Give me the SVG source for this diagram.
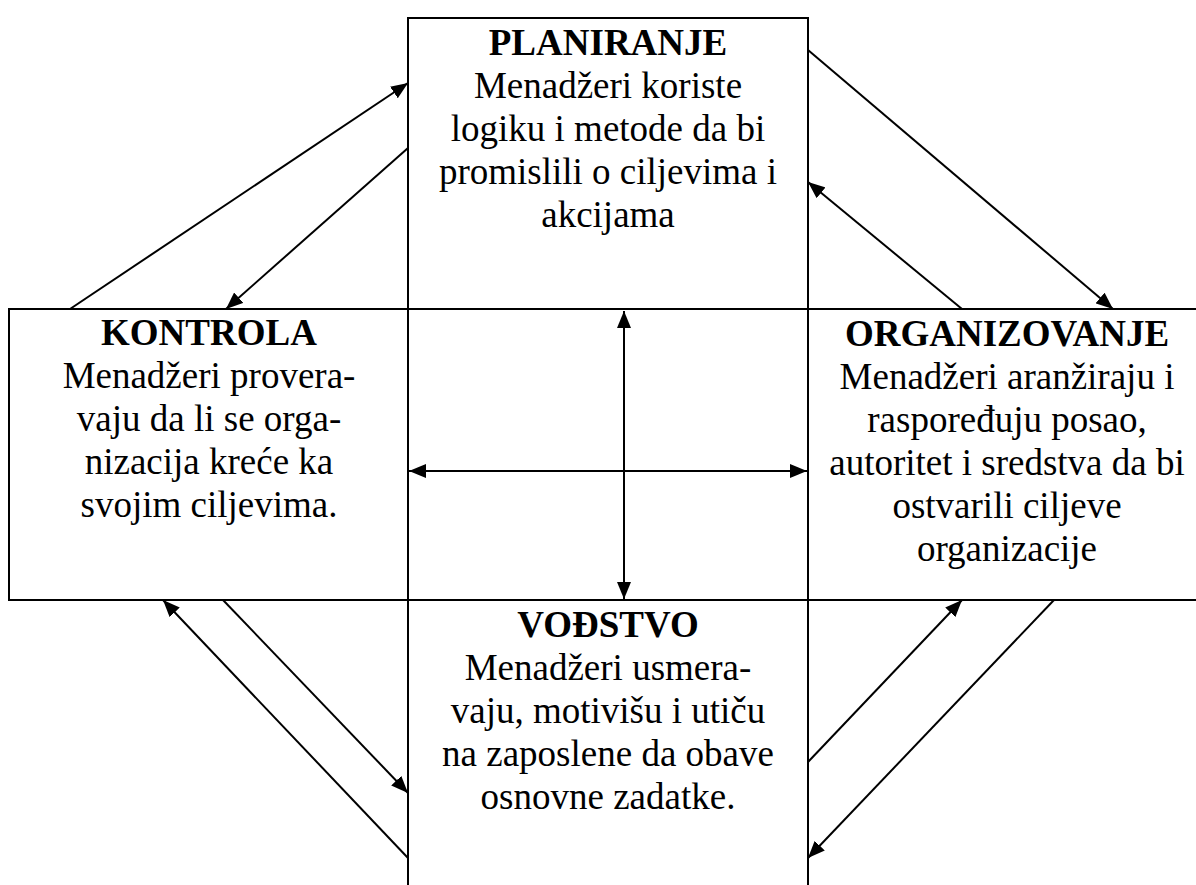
<svg xmlns="http://www.w3.org/2000/svg" width="1196" height="885" viewBox="0 0 1196 885">
<style>
.box{fill:#fff;stroke:#000;stroke-width:2}
.t{font-family:'Liberation Serif','DejaVu Serif',serif;font-size:37px;fill:#000;text-anchor:middle}
.b{font-weight:bold}
.c{stroke:#000;stroke-width:2;fill:none;marker-end:url(#ah)}
.d{marker-start:url(#ah)}
</style>
<defs>
<marker id="ah" markerUnits="userSpaceOnUse" markerWidth="18" markerHeight="14" refX="17" refY="7" orient="auto-start-reverse">
<path d="M0,0 L17,7 L0,14 z" fill="#000"/>
</marker>
</defs>
<rect width="1196" height="885" fill="#fff"/>
<g id="kontrola">
<rect class="box" x="9" y="309" width="399" height="291"/>
<text class="t" font-family="Liberation Serif, serif" x="209" y="345"><tspan class="b">KONTROLA</tspan><tspan x="209" dy="43">Menadžeri provera-</tspan><tspan x="209" dy="43">vaju da li se orga-</tspan><tspan x="209" dy="43">nizacija kreće ka</tspan><tspan x="209" dy="43">svojim ciljevima.</tspan></text>
</g>
<g id="organizovanje">
<rect class="box" x="808" y="309" width="399" height="291"/>
<text class="t" font-family="Liberation Serif, serif" x="1007" y="346"><tspan class="b">ORGANIZOVANJE</tspan><tspan x="1007" dy="43">Menadžeri aranžiraju i</tspan><tspan x="1007" dy="43">raspoređuju posao,</tspan><tspan x="1007" dy="43">autoritet i sredstva da bi</tspan><tspan x="1007" dy="43">ostvarili ciljeve</tspan><tspan x="1007" dy="43">organizacije</tspan></text>
</g>
<g id="planiranje">
<rect class="box" x="408" y="18" width="400" height="291"/>
<text class="t" font-family="Liberation Serif, serif" x="608" y="55"><tspan class="b">PLANIRANJE</tspan><tspan x="608" dy="43">Menadžeri koriste</tspan><tspan x="608" dy="43">logiku i metode da bi</tspan><tspan x="608" dy="43">promislili o ciljevima i</tspan><tspan x="608" dy="43">akcijama</tspan></text>
</g>
<g id="vodstvo">
<rect class="box" x="408" y="600" width="400" height="300"/>
<text class="t" font-family="Liberation Serif, serif" x="608" y="637"><tspan class="b">VOĐSTVO</tspan><tspan x="608" dy="43">Menadžeri usmera-</tspan><tspan x="608" dy="43">vaju, motivišu i utiču</tspan><tspan x="608" dy="43">na zaposlene da obave</tspan><tspan x="608" dy="43">osnovne zadatke.</tspan></text>
</g>
<g id="connectors">
<line class="c" x1="70" y1="309" x2="408" y2="83"/>
<line class="c" x1="408" y1="148" x2="226" y2="309"/>
<line class="c" x1="808" y1="50" x2="1113" y2="309"/>
<line class="c" x1="962" y1="309" x2="808" y2="182"/>
<line class="c" x1="223" y1="600" x2="408" y2="793"/>
<line class="c" x1="408" y1="858" x2="163" y2="600"/>
<line class="c" x1="808" y1="762" x2="962" y2="600"/>
<line class="c" x1="1054" y1="600" x2="808" y2="858"/>
<line class="c d" x1="624" y1="311" x2="624" y2="599"/>
<line class="c d" x1="409" y1="471" x2="807" y2="471"/>
</g>
</svg>
